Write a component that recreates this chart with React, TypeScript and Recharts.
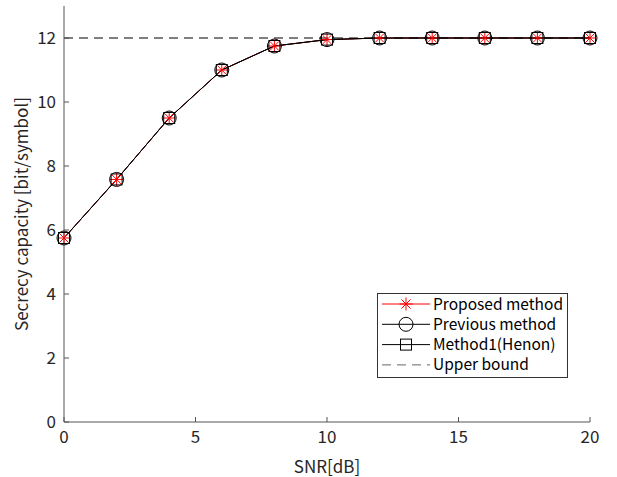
import React from 'react';
import { ComposedChart, Line, XAxis, YAxis } from 'recharts';

const snr = [0, 2, 4, 6, 8, 10, 12, 14, 16, 18, 20];
const proposed = [5.75, 7.58, 9.5, 11.0, 11.75, 11.95, 12, 12, 12, 12, 12];
const previous = [5.75, 7.58, 9.5, 11.0, 11.75, 11.95, 12, 12, 12, 12, 12];
const henon = [5.75, 7.58, 9.5, 11.0, 11.75, 11.95, 12, 12, 12, 12, 12];
const upperBound = [12, 12, 12, 12, 12, 12, 12, 12, 12, 12, 12];
const xTicks = [0, 5, 10, 15, 20];
const yTicks = [0, 2, 4, 6, 8, 10, 12];
const legendNames = ['Proposed method', 'Previous method', 'Method1(Henon)', 'Upper bound'];

const data = snr.map((s, i) => ({
  snr: s,
  proposed: proposed[i],
  previous: previous[i],
  henon: henon[i],
  upper: upperBound[i],
}));

const FONT = '"Noto Sans CJK JP", "Noto Sans", sans-serif';
const AXIS = '#555';

const Star = ({ cx, cy }: any) => {
  if (cx == null || cy == null) return null;
  const r = 6.5;
  const d = r * Math.SQRT1_2;
  return (
    <g stroke="#ff0000" strokeWidth={1}>
      <line x1={cx - r} y1={cy} x2={cx + r} y2={cy} />
      <line x1={cx} y1={cy - r} x2={cx} y2={cy + r} />
      <line x1={cx - d} y1={cy - d} x2={cx + d} y2={cy + d} />
      <line x1={cx - d} y1={cy + d} x2={cx + d} y2={cy - d} />
    </g>
  );
};
const Circ = ({ cx, cy }: any) => {
  if (cx == null || cy == null) return null;
  return <circle cx={cx} cy={cy} r={7} fill="none" stroke="#000" strokeWidth={1} />;
};
const Sq = ({ cx, cy }: any) => {
  if (cx == null || cy == null) return null;
  return <rect x={cx - 5.5} y={cy - 5.5} width={11} height={11} fill="none" stroke="#000" strokeWidth={1} />;
};

const BottomTick = ({ x, y, payload }: any) => (
  <g>
    <line x1={x} y1={y} x2={x} y2={y - 5} stroke={AXIS} />
    <text x={x} y={y + 21} textAnchor="middle" fontSize={17} fill="#262626" fontFamily={FONT}>
      {payload.value}
    </text>
  </g>
);
const TopTick = ({ x, y }: any) => <line x1={x} y1={y} x2={x} y2={y + 5} stroke={AXIS} />;
const LeftTick = ({ x, y, payload }: any) => (
  <g>
    <line x1={x} y1={y} x2={x + 5} y2={y} stroke={AXIS} />
    <text x={x - 8} y={y + 6} textAnchor="end" fontSize={17} fill="#262626" fontFamily={FONT}>
      {payload.value}
    </text>
  </g>
);
const RightTick = ({ x, y }: any) => <line x1={x} y1={y} x2={x - 5} y2={y} stroke={AXIS} />;

const markers = [Star, Circ, Sq, null];
const legendColors = ['#ff0000', '#000', '#000', '#000'];

const LegendBox = () => (
  <svg width={191} height={85} style={{ display: 'block' }}>
    <rect x={0.5} y={0.5} width={190} height={84} fill="#fff" stroke="#333" />
    {legendNames.map((name, i) => {
      const cy = 11 + i * 20.3;
      const M = markers[i];
      return (
        <g key={name}>
          <line
            x1={5}
            x2={53}
            y1={cy}
            y2={cy}
            stroke={i === 3 ? '#666' : legendColors[i]}
            strokeWidth={1}
            strokeDasharray={i === 3 ? '9 6' : undefined}
          />
          {M ? <M cx={29} cy={cy} /> : null}
          <text x={56} y={cy + 5.5} fontSize={15.5} fill="#000" fontFamily={FONT}>
            {name}
          </text>
        </g>
      );
    })}
  </svg>
);

export default function App() {
  return (
    <div style={{ position: 'absolute', left: 0, top: 0, width: 617, height: 477, background: '#fff' }}>
      <ComposedChart
        width={617}
        height={477}
        data={data}
        margin={{ top: 6, right: 27, bottom: 0, left: 0 }}
        style={{ fontFamily: FONT }}
      >
        <XAxis
          dataKey="snr"
          type="number"
          domain={[0, 20]}
          ticks={xTicks}
          tickSize={0}
          tickMargin={0}
          tickLine={false}
          tick={<BottomTick />}
          axisLine={{ stroke: AXIS }}
          height={55}
          label={{ value: 'SNR[dB]', position: 'insideBottom', offset: 4, fontSize: 17, fill: '#262626', fontFamily: FONT }}
        />
        <XAxis
          xAxisId="top"
          orientation="top"
          dataKey="snr"
          type="number"
          domain={[0, 20]}
          ticks={xTicks}
          tickSize={0}
          tickMargin={0}
          tickLine={false}
          tick={<TopTick />}
          axisLine={{ stroke: AXIS }}
          height={0}
        />
        <YAxis
          type="number"
          domain={[0, 13]}
          ticks={yTicks}
          tickSize={0}
          tickMargin={0}
          tickLine={false}
          tick={<LeftTick />}
          axisLine={{ stroke: AXIS }}
          width={64}
          label={{
            value: 'Secrecy capacity [bit/symbol]',
            angle: -90,
            position: 'insideLeft',
            offset: 22,
            fontSize: 17,
            fill: '#262626',
            fontFamily: FONT,
            style: { textAnchor: 'middle' },
          }}
        />
        <YAxis
          yAxisId="right"
          orientation="right"
          type="number"
          domain={[0, 13]}
          ticks={yTicks}
          tickSize={0}
          tickMargin={0}
          tickLine={false}
          tick={<RightTick />}
          axisLine={{ stroke: AXIS }}
          width={0}
        />
        <Line
          dataKey="proposed"
          type="linear"
          stroke="#ff0000"
          strokeWidth={1}
          dot={(p: any) => <Star key={`s${p.index}`} {...p} />}
          isAnimationActive={false}
        />
        <Line
          dataKey="previous"
          type="linear"
          stroke="#000"
          strokeWidth={1}
          dot={(p: any) => <Circ key={`c${p.index}`} {...p} />}
          isAnimationActive={false}
        />
        <Line
          dataKey="henon"
          type="linear"
          stroke="#000"
          strokeWidth={1}
          dot={(p: any) => <Sq key={`q${p.index}`} {...p} />}
          isAnimationActive={false}
        />
        <Line
          dataKey="upper"
          xAxisId="top"
          yAxisId="right"
          type="linear"
          stroke="#000"
          strokeWidth={1.2}
          strokeDasharray="9 6"
          dot={false}
          isAnimationActive={false}
        />
      </ComposedChart>
      <div style={{ position: 'absolute', left: 377, top: 293 }}>
        <LegendBox />
      </div>
    </div>
  );
}
